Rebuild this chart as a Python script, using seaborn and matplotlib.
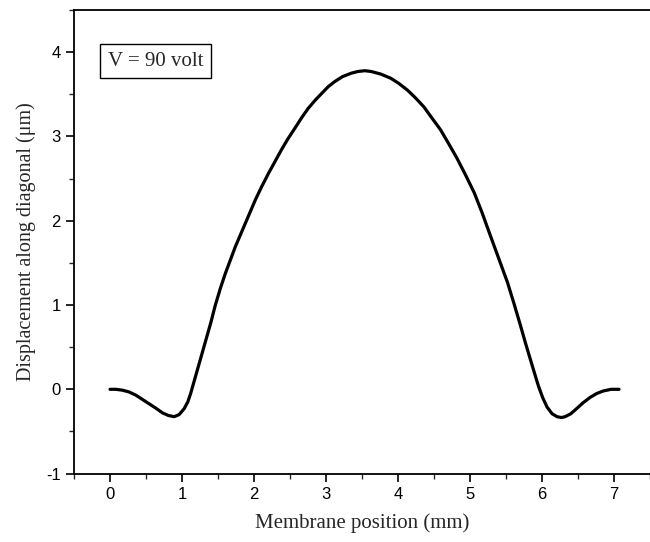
import numpy as np
import pandas as pd
import matplotlib
matplotlib.use("Agg")
import matplotlib.pyplot as plt
import seaborn as sns
from matplotlib.ticker import MultipleLocator

position_mm = [0.00, 0.08, 0.17, 0.26, 0.36, 0.45, 0.54, 0.63, 0.73, 0.81, 0.89, 0.96, 1.03, 1.08, 1.12,
               1.16, 1.21, 1.27, 1.33, 1.40, 1.46, 1.53, 1.60, 1.67, 1.74, 1.81, 1.88, 1.95, 2.02,
               2.11, 2.20, 2.29, 2.38, 2.47, 2.57, 2.66, 2.75, 2.85, 2.94, 3.03, 3.12, 3.23, 3.35,
               3.44, 3.54, 3.63, 3.76, 3.90, 4.01, 4.13, 4.24, 4.36, 4.47, 4.59, 4.70, 4.82, 4.94,
               5.06, 5.17, 5.28, 5.40, 5.52, 5.61, 5.70, 5.77, 5.84, 5.90, 5.95, 6.01, 6.07, 6.14,
               6.21, 6.27, 6.32, 6.40, 6.48, 6.57, 6.67, 6.76, 6.85, 6.96, 7.07]
displacement_um = [0.00, 0.00, -0.01, -0.03, -0.07, -0.12, -0.17, -0.22, -0.28, -0.31, -0.325, -0.30, -0.23, -0.15, -0.05,
                   0.07, 0.22, 0.40, 0.58, 0.79, 0.99, 1.19, 1.37, 1.53, 1.69, 1.83, 1.97, 2.11, 2.25,
                   2.41, 2.56, 2.70, 2.84, 2.97, 3.10, 3.22, 3.33, 3.43, 3.51, 3.59, 3.65, 3.71, 3.75,
                   3.77, 3.78, 3.77, 3.74, 3.69, 3.63, 3.55, 3.46, 3.35, 3.22, 3.08, 2.92, 2.74, 2.54,
                   2.33, 2.09, 1.83, 1.55, 1.27, 1.02, 0.76, 0.55, 0.35, 0.18, 0.04, -0.10, -0.21, -0.29,
                   -0.325, -0.335, -0.325, -0.29, -0.23, -0.16, -0.095, -0.05, -0.02, 0.00, 0.00]

df = pd.DataFrame({"pos": position_mm, "disp": displacement_um})

sns.set_style("white")
plt.rcParams["font.family"] = ["Liberation Sans", "DejaVu Sans"]
plt.rcParams["axes.unicode_minus"] = False

fig = plt.figure(figsize=(6.5, 5.42), dpi=100)
ax = fig.add_axes([74/650, 68.4/542, 576/650, 463.6/542])

sns.lineplot(data=df, x="pos", y="disp", ax=ax, color="black", linewidth=2.3,
             sort=False, estimator=None)

ax.set_xlim(-0.5, 7.5)
ax.set_ylim(-1, 4.5)
ax.xaxis.set_minor_locator(MultipleLocator(0.5))
ax.yaxis.set_minor_locator(MultipleLocator(0.5))
ax.set_xticks(range(0, 8))
ax.set_yticks(range(-1, 5))

for side in ["left", "bottom", "top"]:
    ax.spines[side].set_visible(True)
    ax.spines[side].set_color("black")
    ax.spines[side].set_linewidth(1.3)
ax.spines["right"].set_visible(False)

ax.tick_params(axis="both", which="major", direction="out", length=6, width=1.2,
               labelsize=12, colors="black", bottom=True, left=True, top=False, right=False)
ax.tick_params(axis="both", which="minor", direction="out", length=3.5, width=1.0,
               bottom=True, left=True, top=False, right=False)

serif = ["Liberation Serif", "DejaVu Serif"]
ax.set_xlabel("Membrane position (mm)", fontsize=15, family=serif, labelpad=8)
ax.set_ylabel("Displacement along diagonal (\u03bcm)", fontsize=14.5, family=serif, labelpad=7)

ax.text(-0.03, 3.89, "V = 90 volt", fontsize=15, family=serif, ha="left", va="center",
        bbox=dict(boxstyle="square,pad=0.36", facecolor="white", edgecolor="black", linewidth=1.0))

fig.savefig("out.png", dpi=100)
